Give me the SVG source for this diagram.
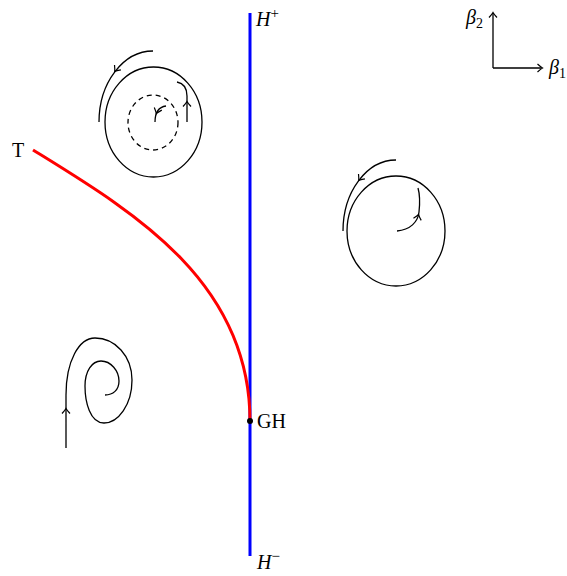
<svg xmlns="http://www.w3.org/2000/svg" width="567" height="576" viewBox="0 0 567 576">
<defs>
<style>
.c{fill:none;stroke:#000;stroke-width:1.3}
.d{fill:none;stroke:#000;stroke-width:1.3;stroke-dasharray:5 4}
.ah{fill:none;stroke:#000;stroke-width:1.2}
.t{font-family:"Liberation Serif",serif;font-size:20px;fill:#000}
.i{font-style:italic}
</style>
<path id="ah" class="ah" d="M-4.5,-4 Q-1,-0.8 0.5,0 Q-1,0.8 -4.5,4"/>
</defs>
<g id="axes">
<path class="c" d="M493,68 V14 M493,68 H541"/>
<use href="#ah" transform="translate(493,13) rotate(-90)"/>
<use href="#ah" transform="translate(542,68)"/>
<text class="t i" x="466" y="24">β<tspan font-style="normal" font-size="14" dy="4">2</tspan></text>
<text class="t i" x="549" y="74">β<tspan font-style="normal" font-size="14" dy="4">1</tspan></text>
</g>
<g id="Hline">
<line x1="250" y1="13" x2="250" y2="556" stroke="#0000ff" stroke-width="3"/>
<text class="t i" x="256" y="26">H<tspan font-style="normal" font-size="15" dy="-8">+</tspan></text>
<text class="t i" x="257" y="569">H<tspan font-style="normal" font-size="15" dy="-8">−</tspan></text>
</g>
<g id="T">
<path d="M33,150 C130,210 250,280 250,421" fill="none" stroke="#ff0000" stroke-width="3"/>
<text class="t" x="12" y="157">T</text>
</g>
<g id="GH">
<circle cx="250" cy="421" r="3" fill="#000"/>
<text class="t" x="257" y="428">GH</text>
</g>
<g id="cycle1">
<ellipse class="c" cx="153.5" cy="122" rx="48.5" ry="55"/>
<ellipse class="d" cx="153" cy="122.5" rx="25" ry="27.5"/>
<path class="c" d="M153,51 A54,71 0 0 0 99,122"/>
<use href="#ah" transform="translate(115,71) rotate(127)"/>
<path class="c" d="M177,82 Q187,84 187,96 L187,122"/>
<use href="#ah" transform="translate(187,102) rotate(-90)"/>
<path class="c" d="M166,106 C159,107 155,112 155,122"/>
<use href="#ah" transform="translate(156.5,113) rotate(110)"/>
</g>
<g id="cycle2">
<ellipse class="c" cx="396" cy="231" rx="49" ry="55"/>
<path class="c" d="M396,160 A53,71 0 0 0 343,231"/>
<use href="#ah" transform="translate(359,180) rotate(127)"/>
<path class="c" d="M397,231 C410,230 418,222 419,212 C420,203 420,195 418,188"/>
<use href="#ah" transform="translate(418.5,215) rotate(-75)"/>
</g>
<g id="spiral">
<path class="c" d="M66,448 L66,395 C66,361 79,338 95,338 C115,338 132,356 132,380 C132,405 118,423 104,423 C90,423 85,402 85,386 C85,371 92,361 101,361 C111,361 119,371 119,381 C119,390 113,395 105,395"/>
<use href="#ah" transform="translate(66,409) rotate(-90)"/>
</g>
</svg>
